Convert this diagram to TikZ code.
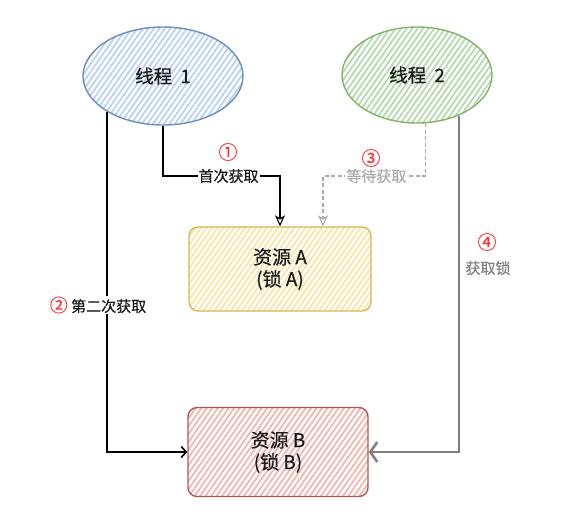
\documentclass[tikz,border=0pt]{standalone}
\usepackage{fontspec}
\setmainfont{Noto Sans CJK SC}[FakeBold=0.5]
\usetikzlibrary{shapes.geometric,arrows.meta,patterns.meta}
\definecolor{blueF}{HTML}{B9D0F2}
\definecolor{blueS}{HTML}{6C8EBF}
\definecolor{greenF}{HTML}{B6D8B0}
\definecolor{greenS}{HTML}{82B366}
\definecolor{yellowF}{HTML}{FAE3A6}
\definecolor{yellowS}{HTML}{D6B656}
\definecolor{redF}{HTML}{F3B5B2}
\definecolor{redS}{HTML}{B85450}
\definecolor{txt}{HTML}{1A1A1A}
\definecolor{numred}{HTML}{FF3333}
\definecolor{g3}{HTML}{AAAAAA}
\definecolor{g4}{HTML}{808080}
\begin{document}
\begin{tikzpicture}[x=1pt,y=-1pt,
  hatch/.style={pattern={Lines[angle=55,distance=4.5pt,line width=1.8pt]}, pattern color=#1},
  thread/.style={ellipse, line width=1.4pt, minimum width=160pt, minimum height=98pt,
    font=\fontsize{18.5}{22}\selectfont, text=txt},
  res/.style={rectangle, rounded corners=9pt, line width=1.4pt, minimum width=182pt,
    minimum height=84pt, align=center, font=\fontsize{19}{22}\selectfont, text=txt},
  lbl/.style={fill=white, inner sep=1pt, font=\fontsize{15}{17}\selectfont, text=txt},
  num/.style={inner sep=0pt, font=\fontsize{19}{20}\selectfont, text=numred},
  arrA/.style={draw=black, line width=1.6pt, -{Stealth[open,length=11pt,width=10pt,inset=3pt,line width=1.1pt]}},
  arrB/.style={draw=black, line width=1.6pt, -{Straight Barb[length=5pt,width=11pt]}},
  arrC/.style={draw=g3, line width=1.4pt, dash pattern=on 4pt off 2.5pt, -{Stealth[open,length=11pt,width=10pt,inset=3pt,line width=1.1pt]}},
  arrD/.style={draw=g4, line width=2.6pt, -{Straight Barb[length=7pt,width=20pt]}}
]
\useasboundingbox (0,0) rectangle (588,515);

\node[thread, draw=blueS, hatch=blueF] (t1) at (163,76) {线程\hspace{0.45em}1};
\node[thread, draw=greenS, hatch=greenF, minimum width=150pt, minimum height=96pt] (t2) at (417,75) {线程\hspace{0.45em}2};
\node[res, draw=yellowS, hatch=yellowF] (ra) at (280,269) {资源 A\\(锁 A)};
\node[res, draw=redS, hatch=redF, minimum width=180pt, minimum height=89pt] (rb) at (278,452) {资源 B\\(锁 B)};

\coordinate (y1) at (0,176);

% arrow 1
\draw[arrA] (t1.south) -- (t1.south |- y1) -- node[lbl, pos=0.56] (l1) {首次获取} (ra.north |- y1) -- (ra.north);
\node[num] (n1) at (228,152) {①};

% arrow 2
\draw[arrB] (t1.213) |- (rb.west);
\node[lbl] (l2) at (98,305) {\textcolor{numred}{\fontsize{18}{18}\selectfont ②} 第二次获取};

% arrow 3
\coordinate (a3) at ([xshift=43pt]ra.north);
\draw[arrC] (t2.-80) -- (t2.-80 |- y1) -- node[lbl, text=g3, pos=0.48] (l3) {等待获取} (a3 |- y1) -- (a3);
\node[num] (n3) at (371,158) {③};

% arrow 4
\draw[arrD] (t2.-44) |- (rb.east);
\node[num] (n4) at (487,242) {④};
\node[lbl, text=g4] (l4) at (488,268) {获取锁};
\end{tikzpicture}
\end{document}
